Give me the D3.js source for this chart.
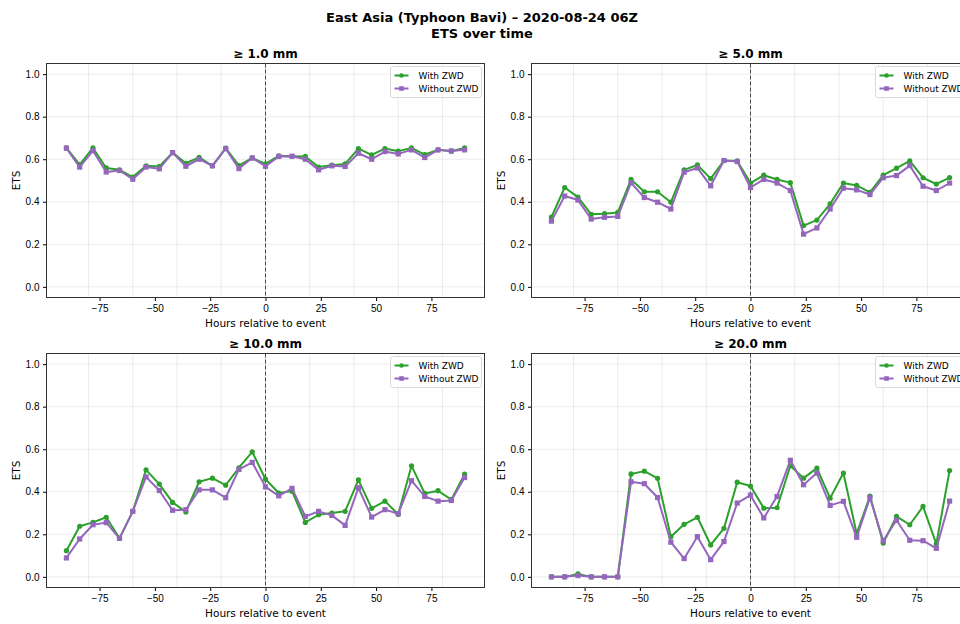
<!DOCTYPE html>
<html>
<head>
<meta charset="utf-8">
<script src="https://cdn.jsdelivr.net/npm/d3@7"></script>
<style>
  body { margin: 0; background: #fff; }
  svg { font-family: "DejaVu Sans", sans-serif; }
  .tick text { font-size: 10px; fill: #000; }
  .tick line { stroke: #000; }
</style>
</head>
<body>
<svg id="chart" width="960" height="624"></svg>
<script>
const hours = d3.range(-90, 91, 6);

const thresholds = ["≥ 1.0 mm", "≥ 5.0 mm", "≥ 10.0 mm", "≥ 20.0 mm"];

const with1 = [0.653, 0.575, 0.653, 0.559, 0.55, 0.516, 0.569, 0.566, 0.631, 0.581, 0.609, 0.569, 0.652, 0.57, 0.606, 0.578,
  0.616, 0.614, 0.613, 0.563, 0.572, 0.578, 0.65, 0.62, 0.65, 0.638, 0.653, 0.622, 0.644, 0.638, 0.653];
const without1 = [0.652, 0.563, 0.64, 0.54, 0.547, 0.506, 0.563, 0.555, 0.631, 0.567, 0.60, 0.569, 0.65, 0.556, 0.606, 0.567,
  0.613, 0.614, 0.60, 0.55, 0.569, 0.566, 0.628, 0.60, 0.636, 0.625, 0.644, 0.608, 0.644, 0.639, 0.644];

const with5 = [0.328, 0.467, 0.422, 0.341, 0.344, 0.35, 0.505, 0.447, 0.447, 0.398, 0.55, 0.573, 0.509, 0.594, 0.592, 0.488,
  0.525, 0.505, 0.49, 0.288, 0.314, 0.39, 0.488, 0.477, 0.444, 0.525, 0.558, 0.592, 0.513, 0.483, 0.514];
const without5 = [0.309, 0.427, 0.408, 0.319, 0.327, 0.331, 0.489, 0.42, 0.398, 0.366, 0.539, 0.559, 0.475, 0.594, 0.589, 0.467,
  0.505, 0.488, 0.453, 0.248, 0.277, 0.366, 0.464, 0.456, 0.434, 0.513, 0.523, 0.57, 0.473, 0.453, 0.488];

const with10 = [0.123, 0.238, 0.256, 0.28, 0.181, 0.308, 0.503, 0.436, 0.35, 0.305, 0.447, 0.464, 0.431, 0.513, 0.588, 0.459,
  0.394, 0.403, 0.256, 0.292, 0.30, 0.308, 0.456, 0.322, 0.356, 0.294, 0.522, 0.392, 0.405, 0.363, 0.483];
const without10 = [0.089, 0.178, 0.245, 0.255, 0.181, 0.308, 0.47, 0.406, 0.313, 0.316, 0.409, 0.409, 0.372, 0.505, 0.538, 0.423,
  0.381, 0.416, 0.284, 0.308, 0.289, 0.242, 0.419, 0.281, 0.316, 0.297, 0.452, 0.378, 0.356, 0.359, 0.467];

const with20 = [0, 0, 0.014, 0, 0, 0, 0.484, 0.497, 0.463, 0.189, 0.247, 0.28, 0.15, 0.228, 0.445, 0.427,
  0.323, 0.325, 0.522, 0.464, 0.511, 0.37, 0.488, 0.203, 0.38, 0.159, 0.284, 0.245, 0.331, 0.155, 0.50];
const without20 = [0, 0, 0.006, 0, 0, 0, 0.447, 0.438, 0.373, 0.163, 0.086, 0.189, 0.081, 0.166, 0.347, 0.384,
  0.277, 0.378, 0.548, 0.433, 0.488, 0.336, 0.355, 0.186, 0.372, 0.17, 0.266, 0.172, 0.17, 0.134, 0.356];

const withZwd = [with1, with5, with10, with20];
const withoutZwd = [without1, without5, without10, without20];

const seriesNames = ["With ZWD", "Without ZWD"];
const colors = ["#2ca02c", "#9467bd"];

const svg = d3.select("#chart");

// suptitle
svg.append("text").attr("x", 482).attr("y", 22).attr("text-anchor", "middle")
  .style("font-size", "13px").style("font-weight", "bold")
  .text("East Asia (Typhoon Bavi) – 2020-08-24 06Z");
svg.append("text").attr("x", 482).attr("y", 38).attr("text-anchor", "middle")
  .style("font-size", "13px").style("font-weight", "bold")
  .text("ETS over time");

const panelW = 438, panelH = 234;
const panels = [
  { left: 46.5, top: 63.5 },
  { left: 531.5, top: 63.5 },
  { left: 46.5, top: 353.5 },
  { left: 531.5, top: 353.5 }
];

const x = d3.scaleLinear().domain([-99, 99]).range([0, panelW]);
const y = d3.scaleLinear().domain([-0.05, 1.05]).range([panelH, 0]);

panels.forEach((p, i) => {
  const g = svg.append("g").attr("transform", `translate(${p.left}, ${p.top})`);

  // grid
  g.append("g").selectAll("line").data(x.ticks(8).filter(t => t >= -99 && t <= 99))
    .join("line")
    .attr("x1", d => x(d)).attr("x2", d => x(d)).attr("y1", 0).attr("y2", panelH)
    .attr("stroke", "#b0b0b0").attr("stroke-opacity", 0.3).attr("stroke-width", 0.8);
  g.append("g").selectAll("line").data([0, 0.2, 0.4, 0.6, 0.8, 1.0])
    .join("line")
    .attr("x1", 0).attr("x2", panelW).attr("y1", d => y(d)).attr("y2", d => y(d))
    .attr("stroke", "#b0b0b0").attr("stroke-opacity", 0.3).attr("stroke-width", 0.8);

  // event line
  g.append("line")
    .attr("x1", x(0)).attr("x2", x(0)).attr("y1", 0).attr("y2", panelH)
    .attr("stroke", "#000").attr("stroke-opacity", 0.7).attr("stroke-width", 1)
    .attr("stroke-dasharray", "4,2");

  // axes
  g.append("g")
    .attr("transform", `translate(0, ${panelH})`)
    .call(d3.axisBottom(x).tickValues([-75, -50, -25, 0, 25, 50, 75]).tickSize(3.5).tickPadding(3.5))
    .call(a => a.select(".domain").remove());
  g.append("g")
    .call(d3.axisLeft(y).tickValues([0, 0.2, 0.4, 0.6, 0.8, 1.0]).tickFormat(d3.format(".1f")).tickSize(3.5).tickPadding(3.5))
    .call(a => a.select(".domain").remove());

  // frame
  g.append("rect").attr("width", panelW).attr("height", panelH)
    .attr("fill", "none").attr("stroke", "#333").attr("stroke-width", 1);

  // series
  const sets = [withZwd[i], withoutZwd[i]];
  const line = d3.line().x((d, k) => x(hours[k])).y(d => y(d));
  sets.forEach((vals, s) => {
    g.append("path").datum(vals)
      .attr("fill", "none").attr("stroke", colors[s]).attr("stroke-width", 2)
      .attr("stroke-linejoin", "round")
      .attr("d", line);
    if (s === 0) {
      g.append("g").selectAll("circle").data(vals).join("circle")
        .attr("cx", (d, k) => x(hours[k])).attr("cy", d => y(d))
        .attr("r", 2.6).attr("fill", colors[s]);
    } else {
      g.append("g").selectAll("rect").data(vals).join("rect")
        .attr("x", (d, k) => x(hours[k]) - 2.6).attr("y", d => y(d) - 2.6)
        .attr("width", 5.2).attr("height", 5.2).attr("fill", colors[s]);
    }
  });

  // titles
  g.append("text").attr("x", panelW / 2).attr("y", -6).attr("text-anchor", "middle")
    .style("font-size", "12px").style("font-weight", "bold").text(thresholds[i]);
  g.append("text").attr("x", panelW / 2).attr("y", panelH + 29).attr("text-anchor", "middle")
    .style("font-size", "10.5px").text("Hours relative to event");
  g.append("text").attr("transform", `translate(-27, ${panelH / 2}) rotate(-90)`)
    .attr("text-anchor", "middle").style("font-size", "10.5px").text("ETS");

  // legend
  const lg = g.append("g").attr("transform", `translate(${panelW - 94}, 3)`);
  lg.append("rect").attr("width", 91).attr("height", 31).attr("rx", 2.5)
    .attr("fill", "#fff").attr("fill-opacity", 0.8).attr("stroke", "#d0d0d0").attr("stroke-width", 0.8);
  seriesNames.forEach((name, s) => {
    const yy = 9 + s * 13;
    lg.append("line").attr("x1", 4).attr("x2", 18).attr("y1", yy).attr("y2", yy)
      .attr("stroke", colors[s]).attr("stroke-width", 2);
    if (s === 0) {
      lg.append("circle").attr("cx", 11).attr("cy", yy).attr("r", 2.3).attr("fill", colors[s]);
    } else {
      lg.append("rect").attr("x", 8.7).attr("y", yy - 2.3).attr("width", 4.6).attr("height", 4.6).attr("fill", colors[s]);
    }
    lg.append("text").attr("x", 28).attr("y", yy + 3.3).style("font-size", "9px").text(name);
  });
});
</script>
</body>
</html>
